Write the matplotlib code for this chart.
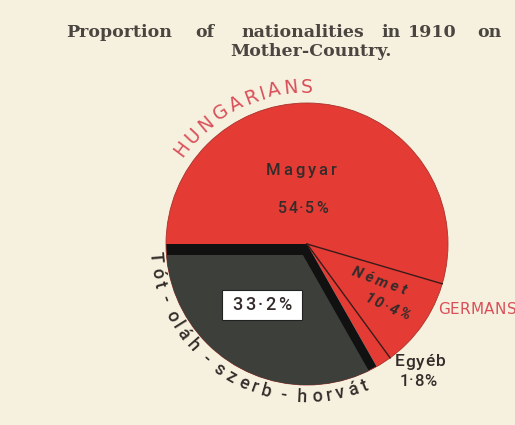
import numpy as np
import matplotlib
matplotlib.use("Agg")
import matplotlib.pyplot as plt
from matplotlib.patches import Wedge, Circle, Rectangle
from matplotlib.textpath import TextToPath
from matplotlib.font_manager import FontProperties

# ---- data ----
categories = ["Magyar", "Német", "Egyéb", "Tót-oláh-szerb-horvát"]
shares = [54.5, 10.4, 1.8, 33.2]
share_labels = ["54·5%", "10·4%", "1·8%", "33·2%"]
title_line1 = ["Proportion", "of", "nationalities", "in", "1910", "on"]
title_line2 = "Mother-Country."
group_hu = "HUNGARIANS"
group_de = "GERMANS"
arc_label = "Tót - oláh - szerb - horvát"

BG = "#f6f0de"
RED = "#e43b35"
DARK = "#3d3f3b"
INK = "#332c2a"
PINK = "#d9505a"
LFAM = "Roboto"

W, H = 515, 425
fig = plt.figure(figsize=(W / 100, H / 100), dpi=100, facecolor=BG)
ax = fig.add_axes([0, 0, 1, 1])
ax.set_facecolor(BG)

def Y(y):
    return H - y

C = (307, Y(244))
R = 141

wedges, _ = ax.pie(shares, colors=[RED, RED, RED, "#111111"], startangle=180,
                   counterclock=False, center=C, radius=R,
                   wedgeprops=dict(linewidth=0))
ax.set_xlim(0, W)
ax.set_ylim(0, H)
ax.set_aspect("equal")
ax.axis("off")

rim = Circle(C, R, fill=False, lw=0.6, edgecolor="#a8342d", zorder=2)
ax.add_patch(rim)

# inner gray of dark wedge (black bands along radial edges)
wd = wedges[3]
t1, t2 = wd.theta1, wd.theta2
n1 = np.array([np.cos(np.radians(t1 + 90)), np.sin(np.radians(t1 + 90))])
n2 = np.array([np.cos(np.radians(t2 - 90)), np.sin(np.radians(t2 - 90))])
off = np.linalg.solve(np.vstack([n1, n2]), np.array([11.0, 9.0]))
inner = Wedge((C[0] + off[0], C[1] + off[1]), R * 2, t1, t2, color=DARK, lw=0, zorder=3)
ax.add_patch(inner)
inner.set_clip_path(Circle(C, R, transform=ax.transData))

for w in wedges[:2]:
    ang = np.radians(w.theta1)
    ax.plot([C[0], C[0] + R * np.cos(ang)], [C[1], C[1] + R * np.sin(ang)],
            color="#3a1a18", lw=1.0, zorder=4)

# ---- helpers ----
ttp = TextToPath()

def char_widths(s, size, family="DejaVu Sans", weight="normal", style="normal"):
    fp = FontProperties(family=family, size=size, weight=weight, style=style)
    out = []
    for ch in s:
        w, h, d = ttp.get_text_width_height_descent(ch, fp, ismath=False)
        out.append(w * 100 / 72.0)
    return np.array(out)

def tracked_text(x, y, s, size, track, rot=0, color=INK, weight="normal",
                 style="normal", family="DejaVu Sans", zorder=5):
    w = char_widths(s, size, family, weight, style)
    total = w.sum() + track * (len(s) - 1)
    pos = -total / 2 + np.cumsum(w) - w / 2 + track * np.arange(len(s))
    d = np.array([np.cos(np.radians(rot)), np.sin(np.radians(rot))])
    for ch, p in zip(s, pos):
        ax.text(x + p * d[0], y + p * d[1], ch, ha="center", va="center",
                rotation=rot, rotation_mode="anchor", fontsize=size, color=color,
                weight=weight, style=style, family=family, zorder=zorder)

def arc_text(s, r, a0, a1, size, color, tops_out, weight="normal", family="DejaVu Sans"):
    w = char_widths(s, size, family=family, weight=weight)
    centers = np.cumsum(w) - w / 2
    frac = (centers - centers[0]) / (centers[-1] - centers[0])
    for ch, f in zip(s, frac):
        a = a0 + (a1 - a0) * f
        x = C[0] + r * np.cos(np.radians(a))
        y = C[1] + r * np.sin(np.radians(a))
        rot = a - 90 if tops_out else a + 90
        ax.text(x, y, ch, ha="center", va="center", rotation=rot,
                rotation_mode="anchor", fontsize=size, color=color,
                family=family, weight=weight)

# ---- title ----
tfont = dict(family="DejaVu Serif", weight="bold", size=12.5, color="#4a4540")
xs1 = [67, 195, 238, 385, 410, 473]
xe1 = [172, 215, 367, 398, 455, 505]
for word, a, b in zip(title_line1, xs1, xe1):
    ax.text((a + b) / 2, Y(32), word, ha="center", va="center", **tfont)
ax.text(311, Y(51), title_line2, ha="center", va="center", **tfont)

# ---- curved text ----
arc_text(group_hu, 157, 143, 90, 13.5, PINK, True)
arc_text(arc_label, 153, 185, 292, 13, INK, False, weight="medium", family=LFAM)

# ---- labels ----
MW = "medium"
tracked_text(301, Y(170), categories[0], 12, 3.0, weight=MW, family=LFAM)
tracked_text(303, Y(208), share_labels[0], 11.5, 1.5, weight=MW, family=LFAM)
tracked_text(379, Y(281), categories[1], 11, 3.0, rot=-20, style="italic", weight="bold", family=LFAM)
tracked_text(387, Y(307), share_labels[1], 11, 2.0, rot=-24, style="italic", weight="bold", family=LFAM)
tracked_text(420, Y(362), categories[2], 12.5, 1.0, weight=MW, family=LFAM)
tracked_text(418, Y(381), share_labels[2], 12, 0.5, weight=MW, family=LFAM)

ax.add_patch(Rectangle((222, Y(320)), 80, 30, facecolor="white", edgecolor="#222222",
                       lw=0.8, zorder=5))
tracked_text(262, Y(305), share_labels[3], 13, 2.5, weight=MW, family=LFAM, zorder=6)

tracked_text(477, Y(310), group_de, 11, 0.3, color=PINK)

fig.savefig("out.png", dpi=100, facecolor=BG)
